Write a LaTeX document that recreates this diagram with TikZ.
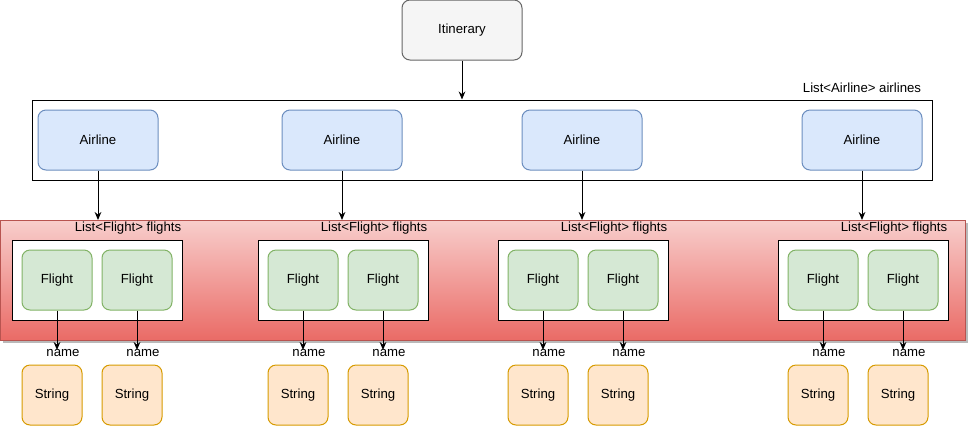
\documentclass[tikz,border=0pt]{standalone}
\usepackage{fontspec}
\setmainfont{Liberation Sans}
\usetikzlibrary{arrows.meta}
\definecolor{grayfill}{HTML}{F5F5F5}
\definecolor{graystroke}{HTML}{666666}
\definecolor{bluefill}{HTML}{DAE8FC}
\definecolor{bluestroke}{HTML}{6C8EBF}
\definecolor{greenfill}{HTML}{D5E8D4}
\definecolor{greenstroke}{HTML}{82B366}
\definecolor{orangefill}{HTML}{FFE6CC}
\definecolor{orangestroke}{HTML}{D79B00}
\definecolor{redtop}{HTML}{F8CECC}
\definecolor{redbottom}{HTML}{EA6B66}
\definecolor{redstroke}{HTML}{B85450}
\tikzset{
  rbox/.style={draw, rounded corners=6pt, inner sep=0pt, font=\fontsize{9.9}{12}\selectfont, line width=0.75pt},
  itin/.style={rbox, fill=grayfill, draw=graystroke, minimum width=90pt, minimum height=45pt},
  airline/.style={rbox, fill=bluefill, draw=bluestroke, minimum width=90pt, minimum height=45pt},
  flight/.style={rbox, fill=greenfill, draw=greenstroke, minimum width=52.5pt, minimum height=45pt},
  strbox/.style={rbox, fill=orangefill, draw=orangestroke, minimum width=45pt, minimum height=45pt},
  plainbox/.style={draw=black, fill=white, line width=0.75pt, inner sep=0pt},
  lbl/.style={inner sep=0pt, font=\fontsize{9.9}{12}\selectfont},
  conn/.style={draw=black, line width=0.75pt, -{Stealth[length=6pt,width=5pt]}},
}
\begin{document}
\begin{tikzpicture}[x=0.75pt, y=-0.75pt]
\useasboundingbox (0,0) rectangle (968,426);
% Itinerary
\node[itin] (itin) at (462,30) {Itinerary};
% Airlines list box
\node[plainbox, minimum width=675pt, minimum height=60pt] (alist) at (482,140) {};
\node[lbl] (alistlbl) at (862,88) {List<Airline> airlines};
\draw[conn] (itin.south) -- (alist.north -| itin.south);
% Red box with shadow
\fill[gray!55] (3,223) rectangle (968,343);
\node[draw=redstroke, line width=0.75pt, top color=redtop, bottom color=redbottom, minimum width=723.75pt, minimum height=90pt, inner sep=0pt] (red) at (482.5,280) {};
% groups
\foreach \i/\gl/\ax in {1/12/98, 2/258/342, 3/498/582, 4/778/862} {
  \node[airline] (air\i) at (\ax,140) {Airline};
  \draw[conn] (air\i.south) -- (\ax,220);
  \node[plainbox, minimum width=127.5pt, minimum height=60pt] (flist\i) at (\gl+85,280) {};
  \node[lbl] (flbl\i) at (\gl+116,228) {List<Flight> flights};
  \foreach \j/\off in {a/10, b/90} {
    \node[flight] (fl\i\j) at (\gl+\off+35,280) {Flight};
    \node[strbox] (str\i\j) at (\gl+\off+30,395) {String};
    \coordinate (end\i\j) at (\gl+\off+35,350);
    \draw[conn] (fl\i\j.south) -- (end\i\j);
    \node[lbl] (name\i\j) at (\gl+\off+41,353) {name};
  }
}
\end{tikzpicture}
\end{document}
